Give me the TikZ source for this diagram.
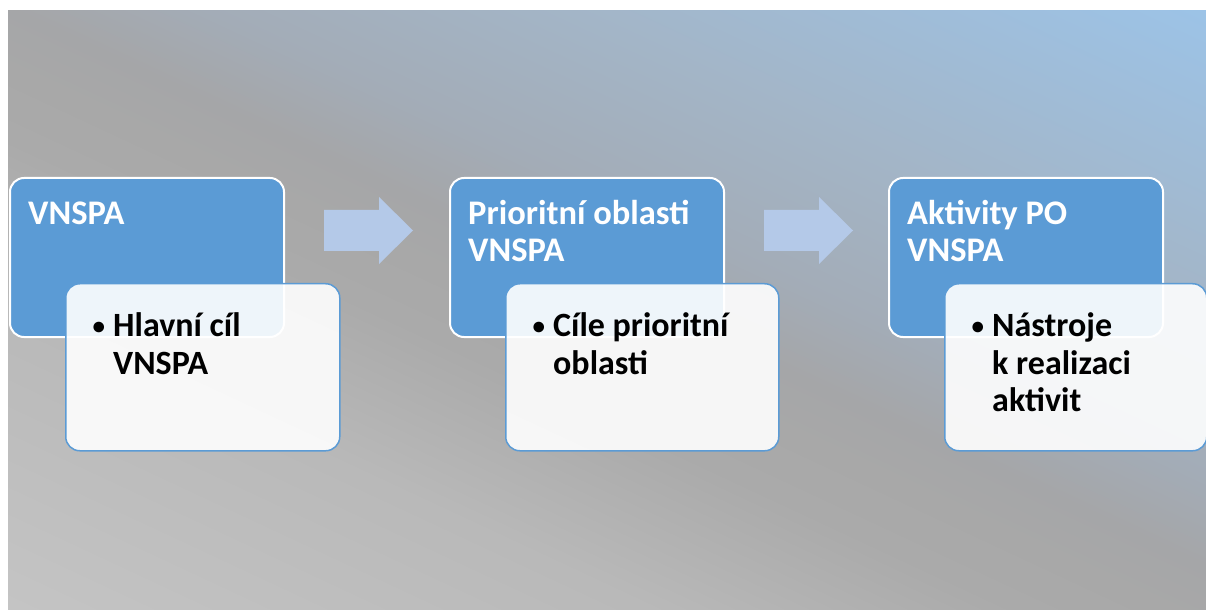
\documentclass[tikz,border=0pt]{standalone}
\usepackage{fontspec}
\setmainfont{Carlito}
\definecolor{headblue}{RGB}{91,155,213}
\definecolor{arrowblue}{RGB}{180,201,232}
\pgfdeclareverticalshading{slidebg}{100bp}{rgb(0bp)=(0.769,0.769,0.769); rgb(28.1bp)=(0.769,0.769,0.769); rgb(39.5bp)=(0.725,0.725,0.725); rgb(45.9bp)=(0.667,0.667,0.667); rgb(48.5bp)=(0.659,0.659,0.659); rgb(50.9bp)=(0.647,0.651,0.659); rgb(54.3bp)=(0.639,0.675,0.718); rgb(60.6bp)=(0.640,0.710,0.780); rgb(71.9bp)=(0.612,0.765,0.906); rgb(100bp)=(0.612,0.765,0.906)}
\newcommand{\itembullet}{\makebox[22bp][l]{\hspace{1.5bp}\raisebox{2.5bp}{\fontsize{25bp}{25bp}\selectfont •}}}
\begin{document}
\begin{tikzpicture}[
        x=1bp, y=-1bp,
        headbox/.style={draw=white, line width=2bp, fill=headblue, rounded corners=14bp, anchor=north west, minimum width=274bp, minimum height=159bp, inner sep=0pt},
        itembox/.style={draw=headblue, line width=1.5bp, fill=white, fill opacity=0.9, rounded corners=14bp, anchor=north west, minimum height=167bp, inner sep=0pt},
        headtext/.style={anchor=base west, inner sep=0pt, text=white, font=\bfseries\fontsize{34.5bp}{37bp}\selectfont},
        itemtext/.style={anchor=base west, inner sep=0pt, text=black, font=\bfseries\fontsize{34bp}{37bp}\selectfont},
        blockarrow/.style={fill=arrowblue}
    ]
        \useasboundingbox (0,0) rectangle (1206,610);
        \fill[white] (0,0) rectangle (1206,610);

        % Background
        \begin{scope}
            \clip (8,11) rectangle (1206,610);
            \path[shading=slidebg, shading angle=-25] (7,-290) rectangle (1207,910);
        \end{scope}

        % Arrows
        \foreach \x/\i in {324/1, 764/2} {
            \fill[blockarrow] (\x,210) -- ++(55,0) -- ++(0,-13) -- ++(34,33.5) -- ++(-34,33.5) -- ++(0,-13) -- ++(-55,0) -- cycle;
        }

        % Boxes
        \foreach \x/\w/\i/\title/\items in {
            9/274/1/{VNSPA}/{Hlavní cíl\\VNSPA},
            449/273/2/{Prioritní oblasti\\VNSPA}/{Cíle prioritní\\oblasti},
            888/262/3/{Aktivity PO\\VNSPA}/{Nástroje\\k realizaci\\aktivit}} {
            \node[headbox] (head\i) at (\x,177) {};
            \node[headtext] (title\i) at (\x+19,225) {\parbox[t]{250bp}{\raggedright \title}};
            \node[itembox, minimum width=\w bp] (item\i) at (\x+56,283) {};
            \node[itemtext] (list\i) at (\x+82,337) {\itembullet\parbox[t]{200bp}{\raggedright \items}};
        }
    \end{tikzpicture}
\end{document}
